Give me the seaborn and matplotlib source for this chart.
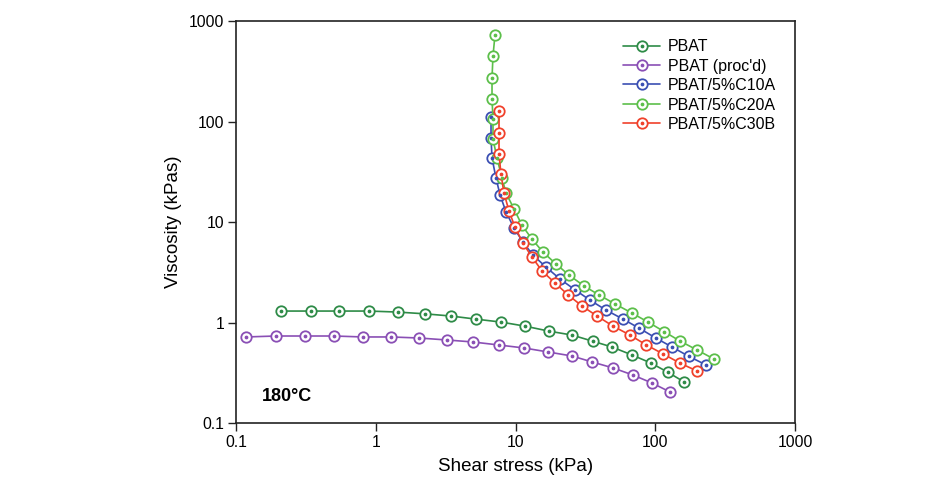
import matplotlib
matplotlib.use("Agg")
import numpy as np
import pandas as pd
import matplotlib.pyplot as plt
import seaborn as sns
from matplotlib.lines import Line2D
from matplotlib.legend_handler import HandlerTuple
from matplotlib.ticker import FixedLocator, FuncFormatter, NullLocator

# ---- data (shear stress kPa, viscosity kPas) ----
pbat_x = [0.210, 0.344, 0.546, 0.895, 1.44, 2.25, 3.45, 5.22, 7.87, 11.7,
          17.4, 25.4, 35.9, 49.1, 68.2, 93.2, 123, 161]
pbat_y = [1.30, 1.30, 1.30, 1.30, 1.27, 1.22, 1.16, 1.08, 1.01, 0.92,
          0.82, 0.75, 0.65, 0.57, 0.475, 0.395, 0.32, 0.256]

proc_x = [0.118, 0.193, 0.312, 0.502, 0.811, 1.29, 2.04, 3.24, 4.96, 7.62,
          11.5, 17.1, 25.4, 35.3, 49.9, 69.3, 94.8, 128]
proc_y = [0.718, 0.734, 0.734, 0.734, 0.718, 0.718, 0.701, 0.670, 0.640, 0.597,
          0.558, 0.509, 0.464, 0.405, 0.353, 0.300, 0.250, 0.203]

c10a_x = [6.68, 6.68, 6.79, 7.25, 7.75, 8.55, 9.76, 11.3, 13.3, 16.5,
          20.8, 26.7, 34.1, 44.4, 58.8, 76.5, 101, 132, 174, 231]
c10a_y = [111, 68.5, 43.3, 27.4, 18.6, 12.6, 8.71, 6.32, 4.70, 3.57,
          2.71, 2.11, 1.67, 1.33, 1.08, 0.88, 0.70, 0.57, 0.46, 0.378]

c20a_x = [7.13, 6.90, 6.79, 6.79, 6.90, 6.90, 7.37, 8.00, 8.55, 9.76, 11.1, 13.1,
          15.7, 19.5, 24.1, 30.9, 39.6, 51.5, 68.2, 88.8, 116, 150, 199, 263]
c20a_y = [726, 449, 271, 167, 106, 67.0, 43.3, 27.4, 19.4, 13.5, 9.33, 6.77,
          5.03, 3.82, 2.97, 2.31, 1.88, 1.53, 1.24, 1.01, 0.81, 0.655, 0.533, 0.433]

c30b_x = [7.62, 7.62, 7.62, 7.87, 8.27, 8.98, 9.91, 11.3, 13.1, 15.5,
          19.2, 23.8, 29.9, 38.3, 49.9, 65.9, 85.9, 114, 150, 199]
c30b_y = [127, 76.9, 47.5, 30.0, 19.4, 12.9, 8.91, 6.18, 4.49, 3.25,
          2.47, 1.88, 1.46, 1.16, 0.92, 0.75, 0.60, 0.486, 0.395, 0.329]

labels = ["PBAT", "PBAT (proc'd)", "PBAT/5%C10A", "PBAT/5%C20A", "PBAT/5%C30B"]
colors = ["#2e8b47", "#8a4fb5", "#3b4fb3", "#5cbf4a", "#f0412b"]
tick_vals = [0.1, 1, 10, 100, 1000]

series = [(pbat_x, pbat_y), (proc_x, proc_y), (c10a_x, c10a_y),
          (c20a_x, c20a_y), (c30b_x, c30b_y)]


def build_frame():
    rows = []
    for lab, (xs, ys) in zip(labels, series):
        for i, (x, y) in enumerate(zip(xs, ys)):
            rows.append({"sample": lab, "order": i, "stress": x, "visc": y})
    return pd.DataFrame(rows)


df = build_frame()

sns.set_theme(style="white")
plt.rcParams["font.family"] = ["Liberation Sans", "DejaVu Sans"]
plt.rcParams["text.color"] = "black"
plt.rcParams["axes.labelcolor"] = "black"
plt.rcParams["xtick.color"] = "black"
plt.rcParams["ytick.color"] = "black"

fig = plt.figure(figsize=(9.35, 4.82), dpi=100)
ax = fig.add_axes([0.2524, 0.1224, 0.5979, 0.834])

handles = []
for lab, col in zip(labels, colors):
    sub = df[df["sample"] == lab]
    sns.lineplot(data=sub, x="stress", y="visc", sort=False, estimator=None,
                 color=col, lw=1.2, marker="o", markersize=7.5,
                 markerfacecolor="white", markeredgecolor=col, markeredgewidth=1.3,
                 ax=ax, legend=False, zorder=3)
    # centre dot of the open circles
    ax.plot(sub["stress"], sub["visc"], ls="none", marker="o", markersize=1.7,
            color=col, zorder=4)
    h_line = Line2D([], [], color=col, lw=1.2, marker="o", markersize=7.5,
                    markerfacecolor="white", markeredgecolor=col, markeredgewidth=1.3)
    h_dot = Line2D([], [], ls="none", marker="o", markersize=1.7, color=col)
    handles.append((h_line, h_dot))

ax.set_xscale("log")
ax.set_yscale("log")
ax.set_xlim(0.1, 1000)
ax.set_ylim(0.1, 1000)

fmt = FuncFormatter(lambda v, p: f"{v:g}")
for axis in (ax.xaxis, ax.yaxis):
    axis.set_major_locator(FixedLocator(tick_vals))
    axis.set_minor_locator(NullLocator())
    axis.set_major_formatter(fmt)

ax.tick_params(axis="both", which="major", direction="out", length=5.5, width=1,
               labelsize=11.3, color="#222222", labelcolor="black",
               bottom=True, left=True, pad=3)

for sp in ax.spines.values():
    sp.set_visible(True)
    sp.set_color("#222222")
    sp.set_linewidth(1.2)

ax.set_xlabel("Shear stress (kPa)", fontsize=13.5, labelpad=6)
ax.set_ylabel("Viscosity (kPas)", fontsize=13.5, labelpad=5)

ax.text(0.047, 0.045, "180°C", transform=ax.transAxes, fontsize=13,
        fontweight="bold", ha="left", va="bottom")

ax.legend(handles, labels, handler_map={tuple: HandlerTuple(ndivide=1)},
          loc="upper left", bbox_to_anchor=(0.693, 0.955), frameon=False,
          fontsize=11.5, handlelength=2.3, handletextpad=0.5, labelspacing=0.28,
          borderpad=0, borderaxespad=0)

plt.savefig("out.png", dpi=100, facecolor="white")
plt.close()
